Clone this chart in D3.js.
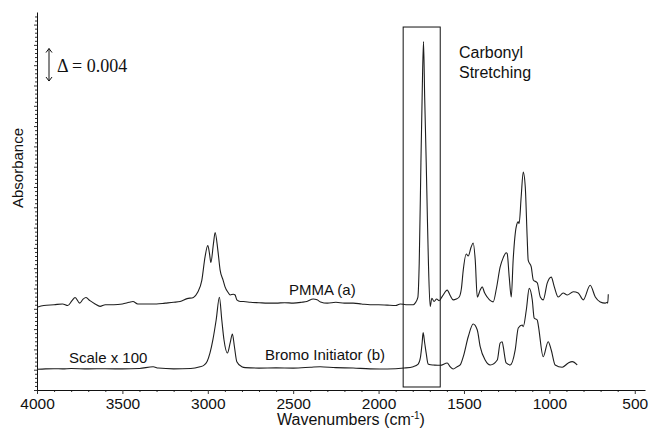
<!DOCTYPE html>
<html>
<head>
<meta charset="utf-8">
<script src="https://cdn.jsdelivr.net/npm/d3@7"></script>
<style>
  body { margin: 0; background: #fff; }
  text { font-family: "Liberation Sans", Arial, sans-serif; fill: #111; }
</style>
</head>
<body>
<div id="chart"></div>
<script>
const width = 649;
const height = 428;

// absorbance is kept in units of 0.001 (spectra are offset for display)
const pmmaWavenumber = [4000, 3960, 3900, 3850, 3820, 3795, 3777, 3750, 3730, 3713, 3690, 3660, 3631, 3600, 3550, 3500, 3460, 3438, 3410, 3350, 3300, 3250, 3200, 3162, 3121, 3084, 3060, 3035, 3016, 3000, 2990, 2982, 2967, 2957, 2941, 2928, 2910, 2899, 2881, 2869, 2850, 2840, 2830, 2810, 2791, 2750, 2700, 2650, 2600, 2550, 2500, 2450, 2420, 2383, 2360, 2340, 2300, 2250, 2200, 2149, 2100, 2050, 2000, 1950, 1900, 1873, 1840, 1797, 1786, 1770, 1762, 1752, 1745, 1737, 1730, 1721, 1714, 1708, 1698, 1688, 1675, 1660, 1645, 1625, 1598, 1580, 1563, 1545, 1528, 1515, 1504, 1487, 1475, 1458, 1446, 1434, 1422, 1405, 1393, 1380, 1364, 1345, 1329, 1310, 1288, 1270, 1253, 1247, 1235, 1223, 1212, 1194, 1182, 1177, 1165, 1153, 1141, 1130, 1124, 1106, 1094, 1071, 1053, 1036, 1012, 989, 971, 948, 919, 895, 860, 831, 802, 761, 731, 702, 673, 661, 658, 655];
const pmmaAbsorbance = [10.2, 10.4, 10.5, 10.6, 10.4, 11.0, 11.4, 10.7, 11.2, 11.4, 11.0, 10.6, 10.3, 10.5, 10.5, 10.6, 10.8, 10.9, 10.6, 10.6, 10.6, 10.7, 10.8, 10.9, 11.25, 11.4, 12.0, 13.5, 16.4, 17.8, 16.8, 15.7, 18.0, 19.4, 17.2, 14.8, 13.5, 12.7, 12.0, 11.7, 11.8, 11.7, 11.1, 10.9, 10.9, 10.8, 10.75, 10.7, 10.7, 10.75, 10.7, 10.8, 10.9, 11.2, 11.1, 10.85, 10.7, 10.8, 10.7, 10.7, 10.6, 10.5, 10.5, 10.45, 10.4, 10.6, 10.5, 10.5, 10.7, 11.4, 15.6, 28.0, 36.0, 42.9, 36.0, 28.0, 21.0, 15.6, 10.3, 11.3, 10.9, 11.2, 11.0, 11.6, 12.3, 11.6, 11.1, 11.2, 11.45, 12.5, 14.8, 16.75, 16.5, 17.6, 18.1, 16.0, 11.45, 12.3, 12.7, 12.0, 11.45, 11.0, 10.85, 12.5, 15.15, 16.3, 16.9, 16.8, 13.9, 11.45, 16.0, 20.1, 20.7, 20.5, 23.8, 26.85, 25.0, 18.85, 16.0, 15.15, 13.55, 13.2, 11.45, 11.1, 13.2, 13.9, 12.7, 11.45, 11.95, 11.7, 12.1, 11.95, 11.1, 12.9, 11.45, 10.85, 10.7, 10.8, 10.7, 11.8];

const bromoWavenumber = [4000, 3950, 3900, 3850, 3800, 3700, 3600, 3500, 3400, 3320, 3290, 3200, 3100, 3045, 3026, 3004, 2987, 2970, 2951, 2932, 2918, 2905, 2885, 2869, 2856, 2844, 2830, 2801, 2780, 2700, 2600, 2500, 2400, 2342, 2250, 2149, 2050, 1950, 1850, 1797, 1768, 1755, 1745, 1739, 1730, 1721, 1710, 1695, 1680, 1639, 1598, 1581, 1563, 1540, 1522, 1504, 1475, 1446, 1422, 1405, 1376, 1346, 1305, 1288, 1276, 1270, 1253, 1229, 1200, 1182, 1159, 1153, 1135, 1118, 1100, 1089, 1071, 1065, 1036, 1007, 989, 966, 925, 889, 866, 837];
const bromoAbsorbance = [2.55, 2.6, 2.62, 2.6, 2.65, 2.6, 2.62, 2.6, 2.65, 2.87, 2.7, 2.6, 2.65, 2.87, 3.0, 3.5, 4.56, 6.2, 8.62, 11.42, 8.62, 6.16, 4.56, 5.79, 6.9, 5.33, 3.49, 2.87, 2.75, 2.7, 2.72, 2.7, 2.8, 2.87, 2.75, 2.71, 2.6, 2.59, 2.7, 2.87, 3.2, 4.0, 5.79, 7.06, 5.79, 4.5, 3.2, 3.1, 3.08, 3.04, 3.33, 2.87, 2.59, 2.87, 3.08, 4.1, 6.56, 8.13, 7.39, 5.33, 3.69, 3.08, 3.69, 5.79, 5.95, 5.33, 3.33, 3.08, 4.93, 7.64, 8.0, 7.8, 9.85, 12.52, 11.08, 8.87, 8.62, 8.0, 4.1, 5.95, 4.93, 3.08, 2.8, 3.33, 3.49, 3.08];

const xMajorTicks = [4000, 3500, 3000, 2500, 2000, 1500, 1000, 500];
const carbonylBox = [1856, 1639];      // wavenumber edges of the highlight box
const carbonylBoxAbs = [0.37, 44.7];   // absorbance edges of the box
const deltaBar = [38.05, 42.05];       // scale bar = 0.004

const svg = d3.select("#chart")
  .append("svg")
  .attr("width", width)
  .attr("height", height);

const x = d3.scaleLinear().domain([4000, 440]).range([37, 645]);
const y = d3.scaleLinear().domain([0, 46.55]).range([390, 12]);

// x axis: labelled ticks every 500, minor every 100
const xMinor = d3.range(4000, 499, -100).filter(v => !xMajorTicks.includes(v));
svg.append("g")
  .attr("transform", `translate(0,${y(0)})`)
  .call(d3.axisBottom(x).tickValues(xMinor).tickSize(2).tickFormat(""))
  .call(g => g.select(".domain").remove());
svg.append("g")
  .attr("transform", `translate(0,${y(0)})`)
  .call(d3.axisBottom(x).tickValues(xMajorTicks).tickSize(4).tickSizeOuter(0)
    .tickPadding(4).tickFormat(d3.format("d")))
  .call(g => g.select(".domain").attr("stroke", "#111"))
  .call(g => g.selectAll("text").attr("font-size", 15.5).attr("fill", "#111")
    .attr("font-family", "Liberation Sans, Arial, sans-serif"));

// y axis: unlabelled ticks
const yMajor = d3.range(0, 45.01, 2.5);
const yMinor = d3.range(0, 46.5, 0.5).filter(v => Math.abs(v / 2.5 - Math.round(v / 2.5)) > 1e-6);
svg.append("g")
  .attr("transform", `translate(${x(4000)},0)`)
  .call(d3.axisLeft(y).tickValues(yMinor).tickSize(2).tickFormat(""))
  .call(g => g.select(".domain").remove());
svg.append("g")
  .attr("transform", `translate(${x(4000)},0)`)
  .call(d3.axisLeft(y).tickValues(yMajor).tickSize(3).tickSizeOuter(0).tickFormat(""))
  .call(g => g.select(".domain").attr("stroke", "#111"));

svg.selectAll(".tick line").attr("stroke", "#333");

// spectra
const line = d3.line()
  .x(d => x(d[0]))
  .y(d => y(d[1]))
  .curve(d3.curveMonotoneX);

const spectra = [
  d3.zip(pmmaWavenumber, pmmaAbsorbance),
  d3.zip(bromoWavenumber, bromoAbsorbance)
];

svg.append("g")
  .selectAll("path")
  .data(spectra)
  .join("path")
  .attr("d", line)
  .attr("fill", "none")
  .attr("stroke", "#1e1e1e")
  .attr("stroke-width", 1.1);

// carbonyl highlight box
svg.append("rect")
  .attr("x", x(carbonylBox[0]))
  .attr("y", y(carbonylBoxAbs[1]))
  .attr("width", x(carbonylBox[1]) - x(carbonylBox[0]))
  .attr("height", y(carbonylBoxAbs[0]) - y(carbonylBoxAbs[1]))
  .attr("fill", "none")
  .attr("stroke", "#111")
  .attr("stroke-width", 1);

svg.append("text").attr("x", 459).attr("y", 58).attr("font-size", 16).text("Carbonyl");
svg.append("text").attr("x", 459).attr("y", 78).attr("font-size", 16).text("Stretching");

// scale bar
const barX = 49;
svg.append("path")
  .attr("d", `M${barX},${y(deltaBar[0])}V${y(deltaBar[1])}` +
    `M${barX - 3},${y(deltaBar[1]) + 4}L${barX},${y(deltaBar[1])}L${barX + 3},${y(deltaBar[1]) + 4}` +
    `M${barX - 3},${y(deltaBar[0]) - 4}L${barX},${y(deltaBar[0])}L${barX + 3},${y(deltaBar[0]) - 4}`)
  .attr("fill", "none")
  .attr("stroke", "#111")
  .attr("stroke-width", 1);

svg.append("text")
  .attr("x", 57).attr("y", 72)
  .attr("font-size", 18)
  .style("font-family", "'Liberation Serif', 'Times New Roman', serif")
  .text("Δ = 0.004");

// series labels
svg.append("text").attr("x", 289).attr("y", 295).attr("font-size", 15).text("PMMA (a)");
svg.append("text").attr("x", 265).attr("y", 360).attr("font-size", 15).text("Bromo Initiator (b)");
svg.append("text").attr("x", 69).attr("y", 363).attr("font-size", 15).text("Scale x 100");

// axis titles
const xTitle = svg.append("text")
  .attr("x", 351).attr("y", 425)
  .attr("text-anchor", "middle")
  .attr("font-size", 16);
xTitle.append("tspan").text("Wavenumbers (cm");
xTitle.append("tspan").attr("font-size", 10).attr("dy", -6).text("-1");
xTitle.append("tspan").attr("dy", 6).text(")");

svg.append("text")
  .attr("transform", "translate(23,168) rotate(-90)")
  .attr("text-anchor", "middle")
  .attr("font-size", 15)
  .text("Absorbance");
</script>
</body>
</html>
